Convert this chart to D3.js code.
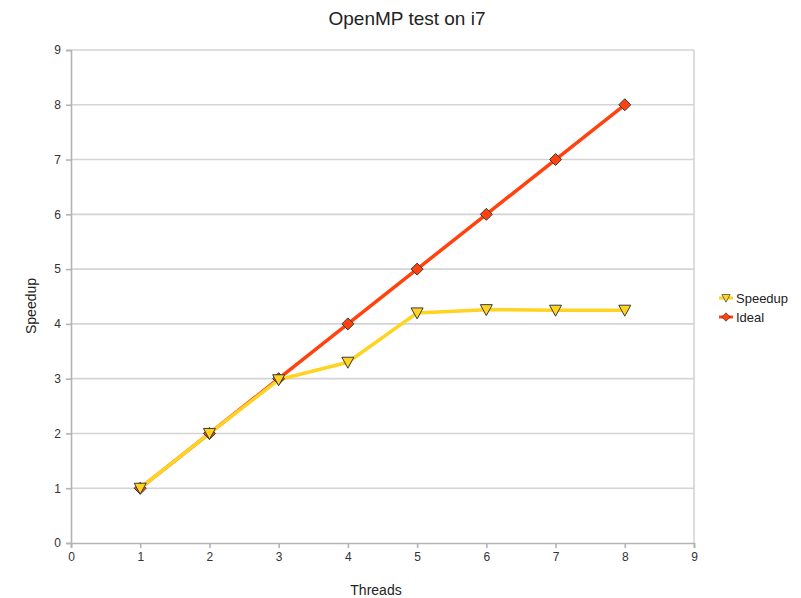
<!DOCTYPE html>
<html>
<head>
<meta charset="utf-8">
<script src="https://cdn.jsdelivr.net/npm/d3@7"></script>
<style>
	body { margin: 0; background: #fff; }
	text { font-family: "Liberation Sans", Arial, sans-serif; }
</style>
</head>
<body>
<svg id="chart" width="801" height="598"></svg>
<script>
var threads = [1, 2, 3, 4, 5, 6, 7, 8];
var speedup = [1.0, 2.0, 2.98, 3.3, 4.2, 4.26, 4.25, 4.25];
var ideal = [1, 2, 3, 4, 5, 6, 7, 8];
var xTicks = [0, 1, 2, 3, 4, 5, 6, 7, 8, 9];
var yTicks = [0, 1, 2, 3, 4, 5, 6, 7, 8, 9];

var svg = d3.select('#chart');
var x = d3.scaleLinear().domain([0, 9]).range([71, 694]);
var y = d3.scaleLinear().domain([0, 9]).range([543, 50]);

// gridlines
svg.append('g').selectAll('line').data(yTicks.slice(1)).enter().append('line')
	.attr('x1', x(0)).attr('x2', x(9))
	.attr('y1', function(d) { return y(d); }).attr('y2', function(d) { return y(d); })
	.attr('stroke', '#d4d4d4').attr('stroke-width', 1.6);
// right border
svg.append('line').attr('x1', x(9)).attr('x2', x(9)).attr('y1', y(9)).attr('y2', y(0))
	.attr('stroke', '#d4d4d4').attr('stroke-width', 1.6);

var xAxis = svg.append('g').attr('transform', 'translate(0,' + y(0) + ')')
	.call(d3.axisBottom(x).tickValues(xTicks).tickSize(5).tickPadding(4));
var yAxis = svg.append('g').attr('transform', 'translate(' + x(0) + ',0)')
	.call(d3.axisLeft(y).tickValues(yTicks).tickSize(5).tickPadding(5));
[xAxis, yAxis].forEach(function(a) {
	a.select('.domain').attr('stroke', '#b3b3b3').attr('stroke-width', 1.6);
	a.selectAll('.tick line').attr('stroke', '#b3b3b3').attr('stroke-width', 1.6);
	a.selectAll('text').attr('font-size', 12).attr('fill', '#333')
		.style('font-family', '"Liberation Sans", Arial, sans-serif');
});

var line = d3.line()
	.x(function(d, i) { return x(threads[i]); })
	.y(function(d) { return y(d); });

var tri = 'M-6,-5L6,-5L0,6Z';
var dia = 'M0,-6L6,0L0,6L-6,0Z';

svg.append('path').datum(ideal).attr('d', line)
	.attr('fill', 'none').attr('stroke', '#ff420e').attr('stroke-width', 3.5)
	.attr('stroke-linejoin', 'round');
svg.append('path').datum(speedup).attr('d', line)
	.attr('fill', 'none').attr('stroke', '#ffd320').attr('stroke-width', 3.5)
	.attr('stroke-linejoin', 'round');

svg.append('g').selectAll('path').data(ideal).enter().append('path')
	.attr('d', dia)
	.attr('transform', function(d, i) { return 'translate(' + x(threads[i]) + ',' + y(d) + ')'; })
	.attr('fill', '#ff420e').attr('stroke', '#3a3a3a').attr('stroke-width', 1);
svg.append('g').selectAll('path').data(speedup).enter().append('path')
	.attr('d', tri)
	.attr('transform', function(d, i) { return 'translate(' + x(threads[i]) + ',' + y(d) + ')'; })
	.attr('fill', '#ffd320').attr('stroke', '#3a3a3a').attr('stroke-width', 1);

// titles
svg.append('text').attr('x', 407).attr('y', 25).attr('text-anchor', 'middle')
	.attr('font-size', 19).attr('fill', '#222')
	.text('OpenMP test on i7');
svg.append('text').attr('x', 376).attr('y', 595).attr('text-anchor', 'middle')
	.attr('font-size', 14).attr('fill', '#222').text('Threads');
svg.append('text').attr('transform', 'translate(36,306) rotate(-90)').attr('text-anchor', 'middle')
	.attr('font-size', 14).attr('fill', '#222').text('Speedup');

// legend
var legend = [['Speedup', '#ffd320', tri], ['Ideal', '#ff420e', dia]];
var lg = svg.append('g').selectAll('g').data(legend).enter().append('g')
	.attr('transform', function(d, i) { return 'translate(726,' + (298 + i * 19) + ')'; });
lg.append('line').attr('x1', -7).attr('x2', 7).attr('stroke', function(d) { return d[1]; }).attr('stroke-width', 3);
lg.append('path').attr('d', function(d) { return d[2]; })
	.attr('transform', 'scale(0.7)')
	.attr('fill', function(d) { return d[1]; }).attr('stroke', '#3a3a3a').attr('stroke-width', 1);
lg.append('text').attr('x', 10).attr('y', 5).attr('font-size', 13).attr('fill', '#222')
	.text(function(d) { return d[0]; });
</script>
</body>
</html>
